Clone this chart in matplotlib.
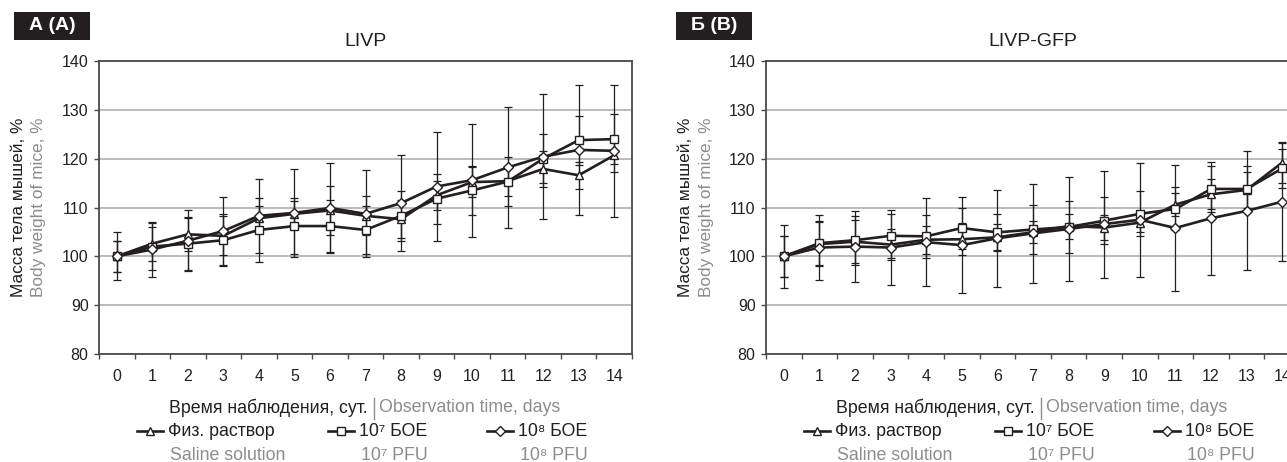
import numpy as np
import matplotlib
matplotlib.use("Agg")
import matplotlib.pyplot as plt
from matplotlib.lines import Line2D
from matplotlib.patches import Rectangle

plt.rcParams["font.family"] = ["Liberation Sans", "DejaVu Sans"]

# --- data (mean body weight, % of day 0, and SD) ---
days = np.arange(15)
day_labels = [str(d) for d in days]

livp_saline = [100, 102.6, 104.5, 104.2, 107.8, 108.7, 109.4, 108.3, 107.6, 112.5, 115.2, 115.4, 117.9, 116.6, 120.7]
livp_e7     = [100, 102.0, 102.6, 103.3, 105.4, 106.2, 106.2, 105.4, 108.3, 111.8, 113.5, 115.3, 120.0, 123.8, 124.0]
livp_e8     = [100, 101.4, 103.2, 105.2, 108.3, 108.9, 109.9, 108.7, 110.9, 114.3, 115.6, 118.2, 120.4, 121.8, 121.6]
livp_saline_sd = [4.9, 3.5, 3.4, 4.0, 2.6, 2.7, 5.1, 4.0, 3.9, 3.0, 3.0, 3.0, 3.7, 2.8, 3.4]
livp_e7_sd     = [3.2, 4.9, 5.5, 5.3, 6.5, 5.8, 5.4, 4.9, 5.1, 5.1, 5.0, 5.0, 5.0, 5.0, 5.05]
livp_e8_sd     = [3.2, 5.6, 6.2, 6.9, 7.6, 9.0, 9.25, 8.9, 9.75, 11.25, 11.6, 12.35, 12.85, 13.35, 13.45]

gfp_saline = [100, 102.5, 103.0, 102.4, 103.4, 103.5, 103.9, 104.95, 106.2, 105.9, 106.9, 110.6, 112.7, 113.6, 119.2]
gfp_e7     = [100, 102.7, 103.3, 104.2, 104.1, 105.8, 104.9, 105.5, 106.0, 107.3, 108.7, 109.7, 113.8, 113.8, 118.0]
gfp_e8     = [100, 101.8, 102.0, 101.8, 102.9, 102.3, 103.7, 104.7, 105.6, 106.6, 107.5, 105.8, 107.8, 109.3, 111.2]
gfp_saline_sd = [4.2, 4.5, 4.4, 3.2, 2.9, 3.3, 2.7, 2.25, 2.55, 2.5, 2.0, 2.3, 3.1, 3.6, 4.1]
gfp_e7_sd     = [4.2, 4.5, 5.0, 4.5, 4.45, 4.2, 3.85, 4.95, 5.35, 4.75, 4.6, 4.4, 4.7, 4.7, 4.05]
gfp_e8_sd     = [6.4, 6.7, 7.35, 7.7, 9.05, 9.9, 9.9, 10.15, 10.65, 10.95, 11.7, 12.85, 11.55, 12.2, 12.15]

series_ru = ["Физ. раствор", "10⁷ БОЕ", "10⁸ БОЕ"]
series_en = ["Saline solution", "10⁷ PFU", "10⁸ PFU"]
markers = ["^", "s", "D"]
y_ticks = [80, 90, 100, 110, 120, 130, 140]

W, H = 1287, 462
BLACK = "#231f20"
GRAY = "#8c8c8c"
SPINE = "#4a4a4a"
GRID = "#b5b5b5"
FS = 12.8

fig = plt.figure(figsize=(W / 100, H / 100), dpi=100)


def panel(x0, x1, tag, tag_x, title, means, sds):
    y0, y1 = 61, 354
    ax = fig.add_axes([x0 / W, 1 - y1 / H, (x1 - x0) / W, (y1 - y0) / H])
    aw = x1 - x0
    ah = y1 - y0

    for m, sd, mk in zip(means, sds, markers):
        ax.errorbar(days, m, yerr=sd, fmt="none", ecolor=BLACK, elinewidth=0.9,
                    capsize=3, capthick=0.9, zorder=3)
        ax.plot(days, m, color=BLACK, lw=1.9, marker=mk, ms=5.5 if mk != "D" else 4.8,
                mfc="white", mec=BLACK, mew=1.0, zorder=4)

    ax.set_xlim(-0.5, 14.5)
    ax.set_ylim(80, 140)
    ax.set_yticks(y_ticks)
    ax.set_xticks(days)
    ax.set_xticklabels(day_labels)
    ax.set_xticks(np.arange(-0.5, 15, 1), minor=True)
    ax.tick_params(axis="x", which="major", length=0, pad=11, labelsize=11.5, colors=BLACK)
    ax.tick_params(axis="x", which="minor", length=3.5, width=1.0, color=SPINE, direction="out")
    ax.tick_params(axis="y", length=3.5, width=1.0, color=SPINE, pad=4, labelsize=11.5,
                   labelcolor=BLACK)
    ax.grid(axis="y", color=GRID, lw=1.3, zorder=0)
    ax.set_axisbelow(True)
    for s in ax.spines.values():
        s.set_color(SPINE)
        s.set_linewidth(1.3)

    ax.set_title(title, fontsize=14, color=BLACK, pad=11)

    # y axis label (ru black, en gray)
    ax.annotate("Масса тела мышей, %", xy=(0, 0.5), xycoords="axes fraction",
                xytext=(-80, 0), textcoords="offset pixels", rotation=90,
                ha="center", va="center", fontsize=12.4, color=BLACK)
    ax.annotate("Body weight of mice, %", xy=(0, 0.5), xycoords="axes fraction",
                xytext=(-60, 0), textcoords="offset pixels", rotation=90,
                ha="center", va="center", fontsize=12.4, color=GRAY)

    # x axis label with separator
    bar_x = 275 / aw
    ax.annotate("Время наблюдения, сут.", xy=(bar_x, 0), xycoords="axes fraction",
                xytext=(-6, -54), textcoords="offset pixels", ha="right", va="center",
                fontsize=FS, color=BLACK)
    ax.annotate("Observation time, days", xy=(bar_x, 0), xycoords="axes fraction",
                xytext=(5, -54), textcoords="offset pixels", ha="left", va="center",
                fontsize=FS, color=GRAY)
    ax.add_artist(Line2D([bar_x, bar_x], [-44 / ah, -65 / ah], transform=ax.transAxes,
                         color=GRAY, lw=1.0, clip_on=False))

    # legend
    handle_x = [38, 229, 388]
    for hx, ru, en, mk in zip(handle_x, series_ru, series_en, markers):
        yy = -77 / ah
        ax.add_artist(Line2D([hx / aw, (hx + 13) / aw, (hx + 26) / aw], [yy, yy, yy],
                             transform=ax.transAxes, color=BLACK, lw=1.9, marker=mk,
                             markevery=[1], ms=5.5 if mk != "D" else 4.8, mfc="white",
                             mec=BLACK, mew=1.0, clip_on=False))
        ax.annotate(ru, xy=((hx + 31) / aw, 0), xycoords="axes fraction",
                    xytext=(0, -77), textcoords="offset pixels", ha="left", va="center",
                    fontsize=FS, color=BLACK)
        ax.annotate(en, xy=((hx + 33) / aw, 0), xycoords="axes fraction",
                    xytext=(0, -101), textcoords="offset pixels", ha="left", va="center",
                    fontsize=FS, color=GRAY)

    # panel tag box
    fig.add_artist(Rectangle((tag_x / W, 1 - 40 / H), 76 / W, 28 / H,
                             transform=fig.transFigure, facecolor=BLACK, edgecolor="none"))
    fig.text((tag_x + 38) / W, 1 - 26 / H, tag, ha="center", va="center",
             fontsize=14, fontweight="bold", color="white")
    return ax


panel(99, 632, "А (A)", 14, "LIVP",
      [livp_saline, livp_e7, livp_e8], [livp_saline_sd, livp_e7_sd, livp_e8_sd])
panel(766, 1300, "Б (B)", 676, "LIVP-GFP",
      [gfp_saline, gfp_e7, gfp_e8], [gfp_saline_sd, gfp_e7_sd, gfp_e8_sd])

fig.savefig("out.png", dpi=100)
